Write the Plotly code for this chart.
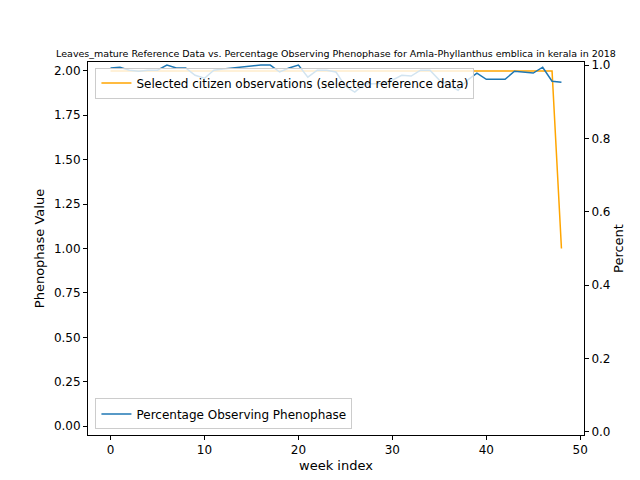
import plotly.graph_objects as go

weeks = list(range(49))
reference_values = [2] * 48 + [1]
percent_pixels = [64, 63, 66, 67, 66, 66, 61, 64, 64, 71, 74, 66, 65, 64, 63, 62, 61, 61, 68, 64,
                  61, 73, 66, 66, 68, 82, 88, 80, 79, 79, 76, 71, 72, 66, 66, 76, 81, 86, 76, 69,
                  75, 75, 75, 67, 68, 69, 63, 77, 78]
percent_values = [round((424 - p) / 363, 3) for p in percent_pixels]

fig = go.Figure()
fig.add_trace(go.Scatter(x=weeks, y=reference_values, mode="lines", line=dict(color="orange", width=1.5),
                         name="Selected citizen observations (selected reference data)",
                         legend="legend", showlegend=True))
fig.add_trace(go.Scatter(x=weeks, y=percent_values, mode="lines", line=dict(color="#1f77b4", width=1.5),
                         name="Percentage Observing Phenophase", yaxis="y2", legend="legend2", showlegend=True))

ax = dict(showgrid=False, zeroline=False, showline=True, linecolor="black", mirror=False,
          ticks="outside", tickcolor="black", ticklen=4, tickfont=dict(size=12))
tfont = dict(size=13)
fig.update_layout(
    width=640, height=480, plot_bgcolor="white", paper_bgcolor="white",
    font=dict(family="DejaVu Sans", size=12, color="black"),
    margin=dict(l=80, r=64, t=54, b=53),
    title=dict(text="Leaves_mature Reference Data vs. Percentage Observing Phenophase for Amla-Phyllanthus emblica in kerala in 2018",
               font=dict(size=9.5), xref="paper", x=0.5, xanchor="center", yref="container", y=0.904, yanchor="middle"),
    xaxis=dict(ax, title=dict(text="week index", standoff=4, font=tfont), range=[-2.4, 50.4],
               tickvals=[0, 10, 20, 30, 40, 50], mirror=True),
    yaxis=dict(ax, title=dict(text="Phenophase Value", standoff=6, font=tfont), range=[-0.05, 2.05],
               tickvals=[0, 0.25, 0.5, 0.75, 1, 1.25, 1.5, 1.75, 2], tickformat=".2f"),
    yaxis2=dict(ax, title=dict(text="Percent", standoff=4, font=tfont), overlaying="y", side="right",
                range=[-0.00826, 1.00826], tickvals=[0, 0.2, 0.4, 0.6, 0.8, 1.0], tickformat=".1f"),
    legend=dict(x=0.015, y=0.985, xanchor="left", yanchor="top", bordercolor="#ccc", borderwidth=1,
                bgcolor="rgba(255,255,255,0.8)", font=dict(size=12)),
    legend2=dict(x=0.015, y=0.015, xanchor="left", yanchor="bottom", bordercolor="#ccc", borderwidth=1,
                 bgcolor="rgba(255,255,255,0.8)", font=dict(size=12)),
)
fig.write_html("out.html")
